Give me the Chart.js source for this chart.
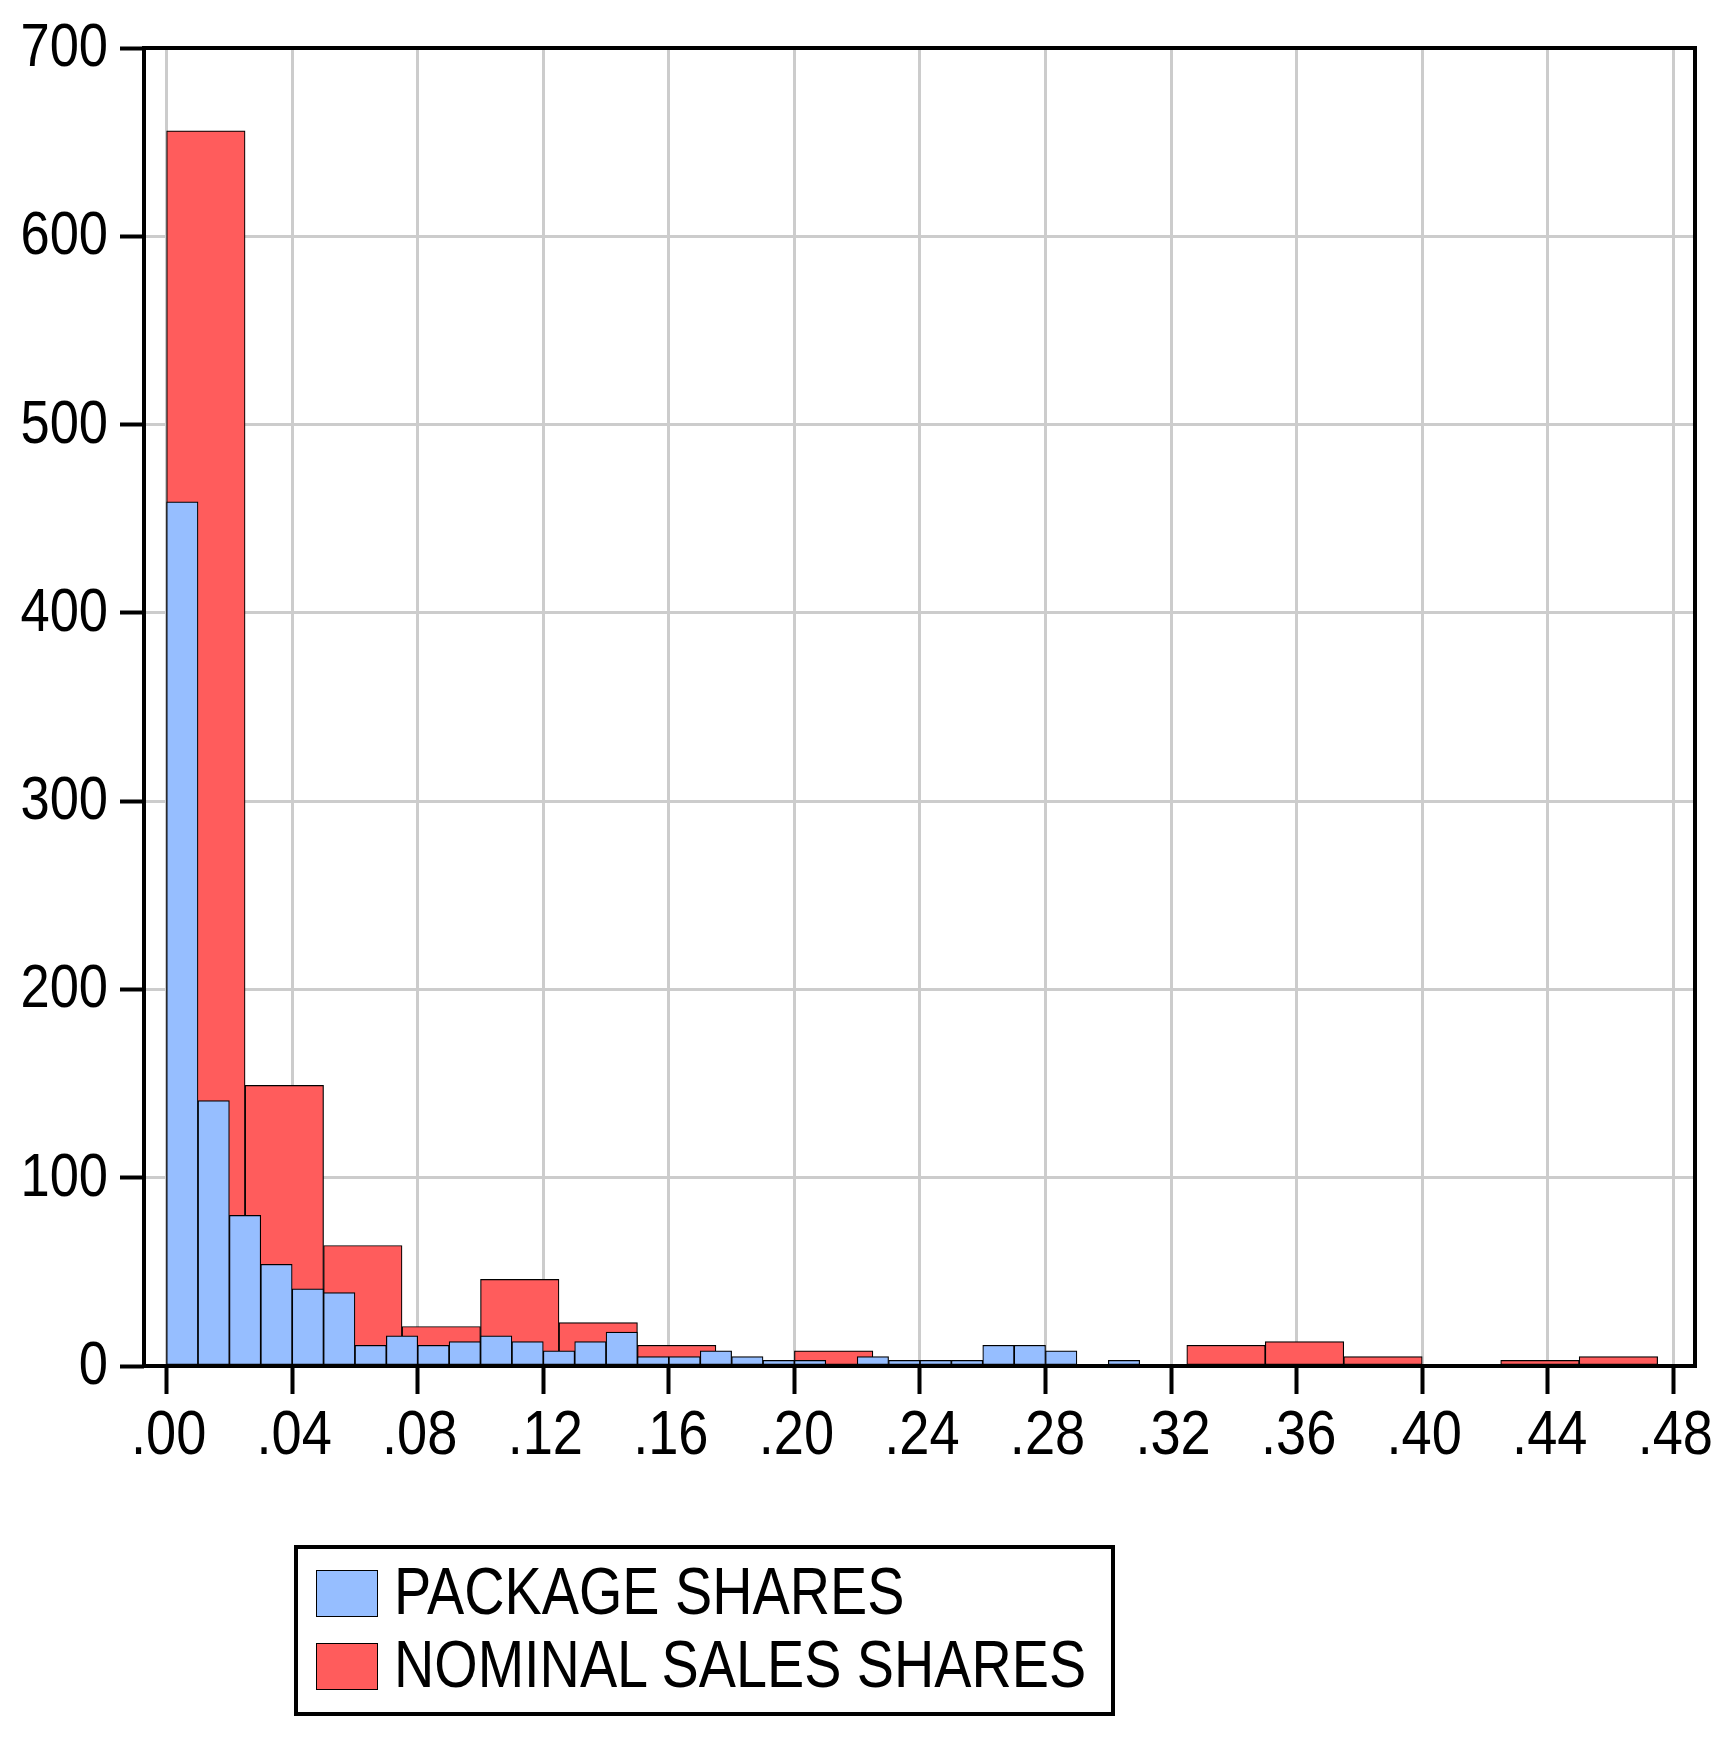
<!DOCTYPE html>
<html>
<head>
<meta charset="utf-8">
<script src="https://cdn.jsdelivr.net/npm/chart.js@4/dist/chart.umd.min.js"></script>
<style>
  body { margin: 0; background: #fff; }
  #wrap { position: relative; width: 1722px; height: 1740px; }
  #legend {
    position: absolute; left: 294px; top: 1545px;
    width: 821px; height: 171px;
    border: 4px solid #000; box-sizing: border-box;
    font-family: 'Liberation Sans', Arial, sans-serif;
    font-size: 66px; color: #000;
  }
  .box { position: absolute; left: 18px; width: 62px; height: 47px; border: 1.5px solid #000; box-sizing: border-box; }
  .txt { position: absolute; left: 96px; height: 66px; line-height: 66px; white-space: nowrap;
         transform: scaleX(0.845); transform-origin: 0 0; }
</style>
</head>
<body>
<div id="wrap">
  <canvas id="myChart" width="1722" height="1740"></canvas>
  <div id="legend"></div>
</div>
<script>
// histogram bins: red uses width .025, blue uses width .01 (counts)
var redWidth = 0.025;
var redCounts = [656, 149, 64, 21, 46, 23, 11, 0, 8, 0, 0, 0, 0, 11, 13, 5, 0, 3, 5];
var blueWidth = 0.01;
var blueCounts = [459, 141, 80, 54, 41, 39, 11, 16, 11, 13, 16, 13, 8, 13, 18,
                  5, 5, 8, 5, 3, 3, 0, 5, 3, 3, 3, 11, 11, 8, 0, 3];
var xTicks = [0, 0.04, 0.08, 0.12, 0.16, 0.20, 0.24, 0.28, 0.32, 0.36, 0.40, 0.44, 0.48];
var yTicks = [0, 100, 200, 300, 400, 500, 600, 700];
var labels = ["PACKAGE SHARES", "NOMINAL SALES SHARES"];
var colors = ['rgb(150, 190, 255)', 'rgb(255, 92, 92)'];

var xMin = -0.0072, xMax = 0.4869;
var yFont = "61px 'Liberation Sans', Arial, sans-serif";
var xFont = "63px 'Liberation Sans', Arial, sans-serif";
var squeeze = 0.86;   // the original uses a narrow face

function binPoints(counts, width) {
    return counts.map(function (c, i) { return { x: i * width + width / 2, y: c }; });
}

function fmtX(v) {
    return v.toFixed(2).replace(/^0/, '');
}

// frame round the plot area
var frame = {
    id: 'frame',
    afterDatasetsDraw: function (chart) {
        var a = chart.chartArea, ctx = chart.ctx;
        ctx.save();
        ctx.strokeStyle = '#000';
        ctx.lineWidth = 4;
        ctx.strokeRect(a.left, a.top, a.right - a.left, a.bottom - a.top);
        ctx.restore();
    }
};

// tick labels in a condensed look
var tickLabels = {
    id: 'tickLabels',
    afterDraw: function (chart) {
        var ctx = chart.ctx;
        var xs = chart.scales.x, ys = chart.scales.y;
        ctx.save();
        ctx.fillStyle = '#000';
        ctx.textBaseline = 'alphabetic';
        ctx.font = yFont;
        ys.ticks.forEach(function (t) {
            var py = ys.getPixelForValue(t.value);
            ctx.save();
            ctx.translate(108, py + 18);
            ctx.scale(squeeze, 1);
            ctx.textAlign = 'right';
            ctx.fillText(String(t.value), 0, 0);
            ctx.restore();
        });
        ctx.font = xFont;
        xs.ticks.forEach(function (t) {
            var px = xs.getPixelForValue(t.value);
            ctx.save();
            ctx.translate(px + 2, 1454);
            ctx.scale(squeeze, 1);
            ctx.textAlign = 'center';
            ctx.fillText(fmtX(t.value), 0, 0);
            ctx.restore();
        });
        ctx.restore();
    }
};

var ctx = document.getElementById("myChart").getContext('2d');

var myChart = new Chart(ctx, {
    type: 'bar',
    data: {
        datasets: [{
            label: labels[0],
            data: binPoints(blueCounts, blueWidth),
            xAxisID: 'x2',
            backgroundColor: colors[0],
            borderColor: '#000',
            borderWidth: 1.2,
            borderSkipped: false,
            barPercentage: 1,
            categoryPercentage: 1,
            grouped: false,
            order: 0
        }, {
            label: labels[1],
            data: binPoints(redCounts, redWidth),
            xAxisID: 'x',
            backgroundColor: colors[1],
            borderColor: '#000',
            borderWidth: 1.2,
            borderSkipped: false,
            barPercentage: 1,
            categoryPercentage: 1,
            grouped: false,
            order: 1
        }]
    },
    options: {
        responsive: false,
        animation: false,
        layout: { padding: { top: 48, right: 27, bottom: 264, left: 0 } },
        plugins: {
            legend: { display: false },
            tooltip: { enabled: false }
        },
        scales: {
            x: {
                type: 'linear',
                min: xMin,
                max: xMax,
                offset: false,
                border: { display: false },
                grid: { color: '#cccccc', lineWidth: 3, offset: false,
                        tickColor: '#000', tickWidth: 4, tickLength: 28 },
                afterBuildTicks: function (scale) {
                    scale.ticks = xTicks.map(function (v) { return { value: v }; });
                },
                afterFit: function (scale) { scale.height = 110; },
                ticks: { display: false, autoSkip: false, maxRotation: 0 }
            },
            x2: {
                type: 'linear',
                min: xMin,
                max: xMax,
                offset: false,
                display: false
            },
            y: {
                min: 0,
                max: 700,
                border: { display: false },
                grid: { color: '#cccccc', lineWidth: 3,
                        tickColor: '#000', tickWidth: 4, tickLength: 24 },
                afterBuildTicks: function (scale) {
                    scale.ticks = yTicks.map(function (v) { return { value: v }; });
                },
                afterFit: function (scale) { scale.width = 144; },
                ticks: { display: false }
            }
        }
    },
    plugins: [frame, tickLabels]
});

// legend box below the chart
var legend = document.getElementById('legend');
var boxTops = [21, 94];
var txtTops = [9, 82];
[0, 1].forEach(function (i) {
    var sw = document.createElement('div');
    sw.className = 'box';
    sw.style.top = boxTops[i] + 'px';
    sw.style.background = colors[i];
    legend.appendChild(sw);
    var tx = document.createElement('div');
    tx.className = 'txt';
    tx.style.top = txtTops[i] + 'px';
    tx.textContent = labels[i];
    legend.appendChild(tx);
});
</script>
</body>
</html>
